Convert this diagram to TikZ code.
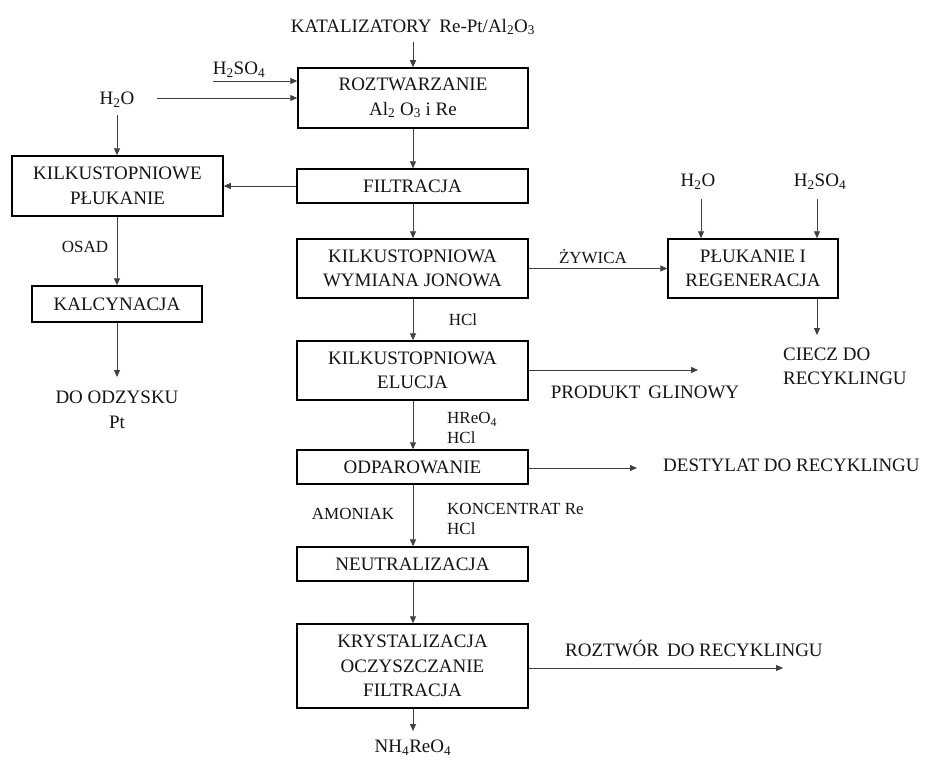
\documentclass[tikz,border=0pt]{standalone}
\usepackage{fontspec}
\setmainfont{Liberation Serif}
\usetikzlibrary{arrows.meta}
\newcommand{\bigf}{\fontsize{19}{24.5}\selectfont}
\newcommand{\smallf}{\fontsize{17}{20}\selectfont}
\begin{document}
\begin{tikzpicture}[x=1pt,y=-1pt,
  box/.style={draw=black, line width=1.5pt, inner sep=0pt, align=center, font=\bigf, text=black!92},
  lbl/.style={inner sep=0pt, align=center, font=\bigf, text=black!92},
  slbl/.style={inner sep=0pt, align=left, font=\smallf, text=black!92},
  conn/.style={draw=black!75, line width=0.9pt, -{Triangle[length=7pt,width=6pt]}}]
\useasboundingbox[fill=white] (0,0) rectangle (930,760);

% process boxes
\node[box, minimum width=230pt, minimum height=60pt] (roz) at (413,98) {ROZTWARZANIE\\Al\textsubscript{2} O\textsubscript{3} i Re};
\node[box, minimum width=231pt, minimum height=34pt] (fil) at (412.5,186) {FILTRACJA};
\node[box, minimum width=231pt, minimum height=59pt] (wym) at (412.5,268.5) {KILKUSTOPNIOWA\\WYMIANA JONOWA};
\node[box, minimum width=231pt, minimum height=59pt] (elu) at (412.5,370.5) {KILKUSTOPNIOWA\\ELUCJA};
\node[box, minimum width=231pt, minimum height=34pt] (odp) at (412.5,467) {ODPAROWANIE};
\node[box, minimum width=231pt, minimum height=34pt] (neu) at (412.5,564) {NEUTRALIZACJA};
\node[box, minimum width=231pt, minimum height=84pt] (kry) at (412.5,666) {KRYSTALIZACJA\\OCZYSZCZANIE\\FILTRACJA};
\node[box, minimum width=211pt, minimum height=60pt] (plk) at (117.5,186) {KILKUSTOPNIOWE\\PŁUKANIE};
\node[box, minimum width=170pt, minimum height=36pt] (kal) at (117,304) {KALCYNACJA};
\node[box, minimum width=170pt, minimum height=59pt] (reg) at (753,268.5) {PŁUKANIE I\\REGENERACJA};

% free texts
\node[lbl] (kat) at (413,27) {KATALIZATORY\, Re-Pt/Al\textsubscript{2}O\textsubscript{3}};
\node[lbl] (h2soa) at (239,70) {H\textsubscript{2}SO\textsubscript{4}};
\node[lbl] (h2oa) at (117,100) {H\textsubscript{2}O};
\node[slbl] (osad) at (85,247) {OSAD};
\node[lbl] (odz) at (117,410) {DO ODZYSKU\\Pt};
\node[slbl] (zyw) at (593,257) {ŻYWICA};
\node[lbl] (h2ob) at (698,182) {H\textsubscript{2}O};
\node[lbl] (h2sob) at (820,182) {H\textsubscript{2}SO\textsubscript{4}};
\node[lbl, anchor=west, align=left] (ciecz) at (783,366.5) {CIECZ DO\\RECYKLINGU};
\node[slbl] (hcla) at (463,320) {HCl};
\node[lbl] (prod) at (645,392) {PRODUKT\, GLINOWY};
\node[slbl, anchor=west] (hreo) at (447,428) {HReO\textsubscript{4}\\HCl};
\node[lbl, anchor=west] (dest) at (663,465) {DESTYLAT DO RECYKLINGU};
\node[slbl] (amon) at (353,514) {AMONIAK};
\node[slbl, anchor=west] (konc) at (447,519) {KONCENTRAT Re\\HCl};
\node[lbl, anchor=west] (rozt) at (565,648) {ROZTWÓR\, DO RECYKLINGU};
\node[lbl] (nh4) at (413,748) {NH\textsubscript{4}ReO\textsubscript{4}};

% connector free ends
\coordinate (katS) at (413,42);
\coordinate (sA) at (213,81);
\coordinate (wA) at (157,98);
\coordinate (h2oaS) at (117,115);
\coordinate (odzN) at (117,377);
\coordinate (h2obS) at (701,199);
\coordinate (h2sobS) at (817,199);
\coordinate (ciecN) at (817,335);
\coordinate (prodE) at (698,370);
\coordinate (destE) at (637,468);
\coordinate (roztE) at (783,668);
\coordinate (nh4N) at (413,731);

% connectors
\draw[conn] (katS) -- (roz.north);
\draw[conn] (sA) -- (sA -| roz.west);
\draw[conn] (wA) -- (wA -| roz.west);
\draw[conn] (h2oaS) -- (h2oaS |- plk.north);
\draw[conn] (fil.west) -- (plk.east);
\draw[conn] (plk.south -| kal.north) -- (kal.north);
\draw[conn] (kal.south) -- (odzN);
\draw[conn] (roz.south) -- (roz.south |- fil.north);
\draw[conn] (roz.south |- fil.south) -- (roz.south |- wym.north);
\draw[conn] (wym.east) -- (reg.west);
\draw[conn] (h2obS) -- (h2obS |- reg.north);
\draw[conn] (h2sobS) -- (h2sobS |- reg.north);
\draw[conn] (ciecN |- reg.south) -- (ciecN);
\draw[conn] (roz.south |- wym.south) -- (roz.south |- elu.north);
\draw[conn] (prodE -| elu.east) -- (prodE);
\draw[conn] (roz.south |- elu.south) -- (roz.south |- odp.north);
\draw[conn] (destE -| odp.east) -- (destE);
\draw[conn] (roz.south |- odp.south) -- (roz.south |- neu.north);
\draw[conn] (roz.south |- neu.south) -- (roz.south |- kry.north);
\draw[conn] (roztE -| kry.east) -- (roztE);
\draw[conn] (roz.south |- kry.south) -- (nh4N);
\end{tikzpicture}
\end{document}
